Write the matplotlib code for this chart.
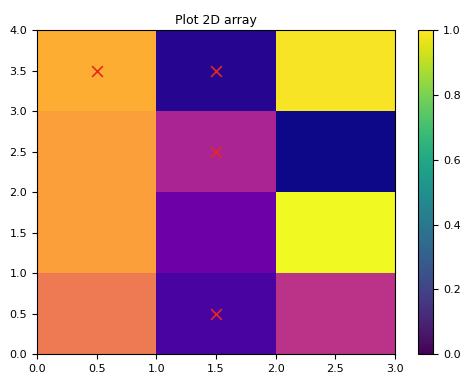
import numpy as np
import matplotlib
matplotlib.use('Agg')
import matplotlib.pyplot as plt
from matplotlib.cm import ScalarMappable
from matplotlib.colors import Normalize

# cell values, rows from bottom (y 0-1) to top (y 3-4), columns x 0-1, 1-2, 2-3
values = [
    [0.67, 0.12, 0.43],
    [0.78, 0.21, 1.00],
    [0.78, 0.38, 0.00],
    [0.82, 0.04, 0.95],
]
x_edges = [0, 1, 2, 3]
y_edges = [0, 1, 2, 3, 4]

# red crosses
cross_x = [0.5, 1.5, 1.5, 1.5]
cross_y = [3.5, 3.5, 2.5, 0.5]

fig = plt.figure(figsize=(4.74, 3.85), dpi=100)
ax = fig.add_axes([0.078, 0.080, 0.755, 0.842])
cax = fig.add_axes([0.882, 0.080, 0.032, 0.842])

ax.pcolormesh(x_edges, y_edges, np.array(values), cmap='plasma', vmin=0, vmax=1)
ax.scatter(cross_x, cross_y, marker='x', color='#e8281e', s=60, linewidths=1.2)
ax.set_xlim(0, 3)
ax.set_ylim(0, 4)
ax.set_title('Plot 2D array', fontsize=9, pad=4)
ax.tick_params(labelsize=8)

cb = fig.colorbar(ScalarMappable(norm=Normalize(0, 1), cmap='viridis'), cax=cax)
cb.ax.tick_params(labelsize=8)

fig.savefig('out.png', dpi=100)
